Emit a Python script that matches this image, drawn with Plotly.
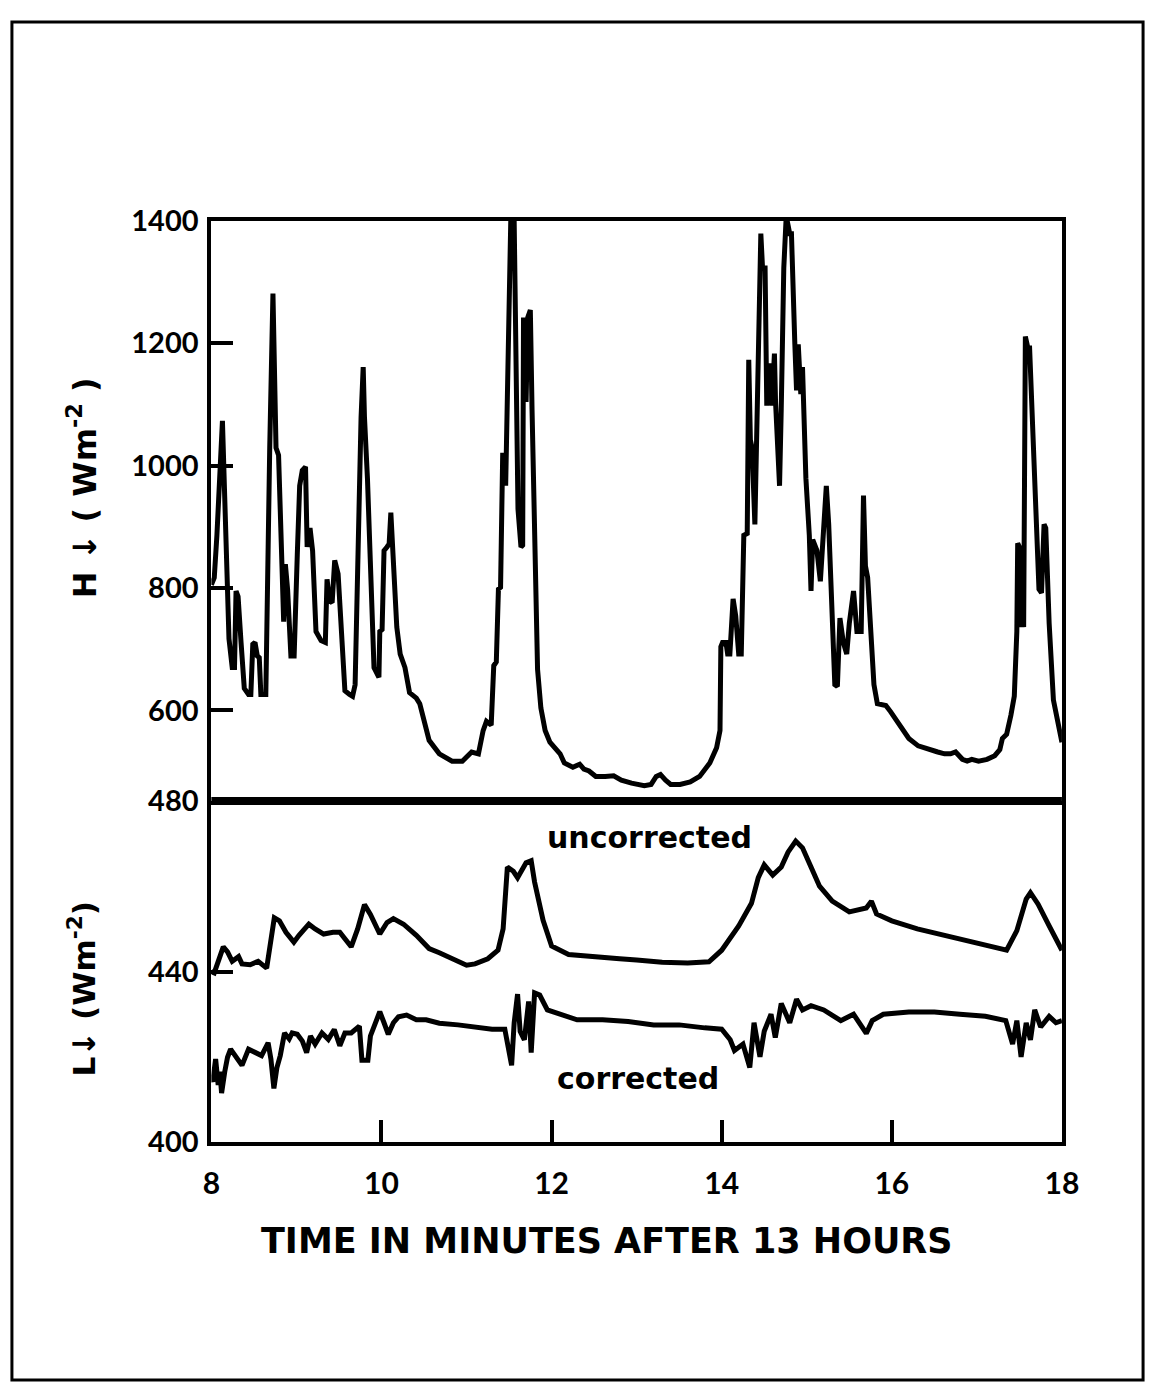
import plotly.graph_objects as go

# ---------------- data ----------------
t_H = [8.00, 8.034, 8.065, 8.092, 8.13, 8.157, 8.18, 8.207, 8.245, 8.272, 8.29, 8.314, 8.349, 8.387, 8.437, 8.464, 8.487, 8.513, 8.54, 8.563, 8.582, 8.64, 8.686, 8.724, 8.76, 8.79, 8.83, 8.85, 8.87, 8.896, 8.935, 8.973, 9.01, 9.038, 9.069, 9.107, 9.126, 9.14, 9.16, 9.19, 9.23, 9.29, 9.34, 9.36, 9.39, 9.42, 9.45, 9.49, 9.53, 9.57, 9.624, 9.66, 9.69, 9.72, 9.76, 9.785, 9.80, 9.835, 9.874, 9.912, 9.97, 9.98, 10.007, 10.03, 10.065, 10.09, 10.11, 10.134, 10.18, 10.22, 10.276, 10.33, 10.41, 10.45, 10.49, 10.56, 10.68, 10.83, 10.95, 11.02, 11.06, 11.14, 11.195, 11.234, 11.29, 11.32, 11.35, 11.375, 11.40, 11.425, 11.453, 11.46, 11.48, 11.52, 11.56, 11.578, 11.605, 11.64, 11.66, 11.67, 11.70, 11.72, 11.75, 11.77, 11.81, 11.835, 11.874, 11.924, 11.98, 12.06, 12.10, 12.15, 12.25, 12.33, 12.38, 12.44, 12.52, 12.63, 12.73, 12.82, 12.94, 13.09, 13.17, 13.23, 13.28, 13.34, 13.40, 13.51, 13.63, 13.74, 13.86, 13.94, 13.98, 13.99, 14.01, 14.05, 14.07, 14.096, 14.134, 14.165, 14.2, 14.23, 14.26, 14.30, 14.318, 14.337, 14.357, 14.39, 14.42, 14.46, 14.48, 14.51, 14.53, 14.57, 14.59, 14.62, 14.633, 14.66, 14.68, 14.70, 14.73, 14.756, 14.77, 14.80, 14.82, 14.86, 14.88, 14.90, 14.93, 14.95, 14.99, 15.03, 15.05, 15.07, 15.12, 15.16, 15.19, 15.23, 15.258, 15.30, 15.33, 15.36, 15.39, 15.43, 15.47, 15.50, 15.55, 15.59, 15.64, 15.667, 15.69, 15.716, 15.75, 15.79, 15.83, 15.93, 15.985, 16.04, 16.12, 16.20, 16.31, 16.43, 16.54, 16.62, 16.69, 16.75, 16.83, 16.886, 16.94, 17.02, 17.12, 17.21, 17.27, 17.30, 17.35, 17.40, 17.44, 17.47, 17.48, 17.50, 17.52, 17.54, 17.55, 17.57, 17.60, 17.62, 17.67, 17.73, 17.76, 17.79, 17.81, 17.85, 17.90, 17.94, 17.98, 18.00]
H_down = [805, 817, 886, 980, 1073, 948, 804, 717, 670, 670, 795, 786, 711, 636, 626, 626, 708, 711, 689, 686, 626, 626, 1029, 1281, 1029, 1017, 836, 745, 839, 798, 689, 689, 854, 967, 992, 998, 867, 880, 898, 861, 729, 714, 711, 814, 779, 776, 845, 823, 729, 632, 626, 623, 642, 854, 1079, 1161, 1079, 979, 836, 670, 654, 729, 732, 861, 867, 872, 923, 854, 736, 692, 670, 629, 620, 611, 586, 551, 529, 517, 517, 526, 532, 529, 567, 582, 576, 673, 679, 798, 801, 1017, 1017, 967, 1104, 1400, 1400, 1229, 929, 867, 870, 1242, 1104, 1242, 1254, 1092, 792, 667, 604, 567, 548, 536, 529, 514, 507, 512, 504, 501, 492, 492, 493, 486, 481, 477, 479, 492, 495, 486, 479, 479, 483, 492, 514, 539, 567, 704, 711, 711, 692, 692, 782, 754, 692, 692, 886, 889, 1173, 1042, 1029, 904, 1136, 1379, 1323, 1323, 1098, 1167, 1098, 1183, 1104, 1017, 967, 1092, 1323, 1400, 1400, 1379, 1379, 1198, 1123, 1198, 1117, 1161, 979, 886, 795, 879, 861, 811, 867, 967, 904, 761, 642, 639, 751, 711, 692, 742, 795, 729, 729, 951, 836, 817, 729, 642, 611, 608, 598, 586, 570, 554, 542, 536, 532, 529, 529, 532, 520, 517, 520, 517, 520, 526, 536, 554, 561, 592, 623, 729, 873, 867, 736, 779, 736, 1211, 1192, 1192, 1011, 798, 792, 904, 898, 742, 617, 589, 567, 548]

t_L_unc = [8.0, 8.034, 8.14, 8.19, 8.245, 8.32, 8.36, 8.456, 8.55, 8.65, 8.74, 8.80, 8.877, 8.97, 9.03, 9.146, 9.22, 9.32, 9.43, 9.51, 9.644, 9.72, 9.80, 9.87, 9.98, 10.065, 10.14, 10.26, 10.41, 10.56, 10.68, 10.85, 11.0, 11.1, 11.25, 11.37, 11.43, 11.48, 11.55, 11.6, 11.7, 11.76, 11.8, 11.9, 12.0, 12.2, 12.5, 12.8, 13.0, 13.3, 13.6, 13.85, 14.0, 14.2, 14.35, 14.43, 14.5, 14.6, 14.7, 14.78, 14.87, 14.95, 15.05, 15.15, 15.3, 15.5, 15.7, 15.76, 15.82, 16.0, 16.3, 16.6, 16.9, 17.2, 17.35, 17.47, 17.58, 17.63, 17.72, 17.85, 18.0]
L_unc = [440, 439.7, 445.8, 444.6, 442.4, 443.5, 441.8, 441.6, 442.4, 440.8, 452.6, 451.9, 449.2, 446.9, 448.5, 451.1, 450, 448.8, 449.2, 449.2, 445.8, 450, 455.7, 453.4, 448.8, 451.5, 452.4, 451.1, 448.5, 445.4, 444.4, 443, 441.5, 441.8, 443, 445, 450, 464.5, 463.5, 462, 465.5, 466, 461, 452, 446, 444, 443.4, 443, 442.7, 442.2, 442, 442.3, 445, 450.7, 456, 462, 465, 462.6, 464.5, 468, 470.6, 469, 464.5, 460, 456.5, 454, 454.9, 456.5, 453.5, 451.9, 450, 448.5, 447, 445.5, 445, 449.6, 457, 458.5, 455.8, 450.7, 445]

t_L_cor = [8.0, 8.016, 8.05, 8.08, 8.10, 8.12, 8.157, 8.19, 8.226, 8.28, 8.36, 8.437, 8.53, 8.59, 8.667, 8.70, 8.735, 8.77, 8.81, 8.86, 8.915, 8.95, 9.01, 9.07, 9.12, 9.165, 9.22, 9.30, 9.375, 9.445, 9.51, 9.57, 9.644, 9.74, 9.77, 9.84, 9.87, 9.93, 9.98, 10.03, 10.08, 10.14, 10.2, 10.295, 10.41, 10.525, 10.68, 10.9, 11.1, 11.3, 11.45, 11.5, 11.53, 11.56, 11.6, 11.63, 11.68, 11.73, 11.76, 11.8, 11.86, 11.95, 12.1, 12.3, 12.6, 12.9, 13.2, 13.5, 13.8, 14.0, 14.1, 14.15, 14.25, 14.33, 14.38, 14.45, 14.5, 14.58, 14.63, 14.7, 14.8, 14.88, 14.95, 15.05, 15.2, 15.4, 15.55, 15.7, 15.77, 15.9, 16.2, 16.5, 16.8, 17.1, 17.34, 17.42, 17.47, 17.52, 17.58, 17.63, 17.68, 17.75, 17.85, 17.93, 18.0]
L_cor = [415, 414.2, 419.5, 413.4, 416.5, 411.5, 416.5, 419.9, 421.8, 420.3, 418, 421.8, 420.7, 420.3, 423.3, 419.5, 412.6, 417.4, 420.3, 425.6, 424.2, 425.6, 425.3, 423.7, 421, 424.9, 423, 425.6, 424.1, 426.4, 422.6, 425.6, 425.6, 427.2, 419.2, 419.2, 424.9, 428.4, 430.6, 428, 425.3, 428, 429.4, 429.8, 428.7, 428.7, 427.9, 427.5, 427, 426.5, 426.5, 420, 418, 428, 434.7, 426, 424, 433, 421, 435, 434.5, 431, 430, 428.7, 428.7, 428.3, 427.5, 427.5, 426.8, 426.5, 424, 421.5, 423, 417.5, 428, 420, 426, 430, 424.5, 432.5, 428, 433.5, 431, 432, 431, 428.5, 430, 425.5, 428.5, 430, 430.5, 430.5, 430, 429.5, 428.5, 423, 428.5, 420, 428, 424, 431, 427, 429.5, 428, 428.5]

x_tickvals = [8, 10, 12, 14, 16, 18]
x_ticktext = ["8", "10", "12", "14", "16", "18"]
h_tickvals = [600, 800, 1000, 1200, 1400]
h_ticktext = ["600", "800", "1000", "1200", "1400"]
l_tickvals = [400, 440, 480]
l_ticktext = ["400", "440", "480"]

# ---------------- layout constants ----------------
W, Hpx = 1163, 1399
x0, x1 = 207 / W, 1077 / W
top_hi, top_lo = 1 - 207 / Hpx, 1 - 802 / Hpx
bot_hi, bot_lo = top_lo, 1 - 1152 / Hpx

NUMFONT = "Lato"
TXTFONT = "DejaVu Sans"
ytickfont = dict(family=NUMFONT, size=29, color="black", weight="bold")
xtickfont = dict(family=NUMFONT, size=30, color="black", weight="bold")
LW = 5

fig = go.Figure()
fig.add_trace(go.Scatter(x=t_H, y=H_down, mode="lines", xaxis="x2", yaxis="y",
                         line=dict(color="black", width=LW), showlegend=False))
fig.add_trace(go.Scatter(x=t_L_unc, y=L_unc, mode="lines", xaxis="x", yaxis="y2",
                         line=dict(color="black", width=LW), showlegend=False))
fig.add_trace(go.Scatter(x=t_L_cor, y=L_cor, mode="lines", xaxis="x", yaxis="y2",
                         line=dict(color="black", width=LW), showlegend=False))

fig.update_layout(
    width=W, height=Hpx, margin=dict(l=0, r=0, t=0, b=0),
    paper_bgcolor="white", plot_bgcolor="white",
    xaxis=dict(domain=[x0, x1], anchor="y2", range=[8, 18], tickvals=x_tickvals, ticktext=x_ticktext,
               ticks="inside", ticklen=22, tickwidth=4, tickcolor="black",
               showline=True, linewidth=4, linecolor="black", mirror=False,
               showgrid=False, zeroline=False, tickfont=xtickfont, ticklabelstandoff=12),
    xaxis2=dict(domain=[x0, x1], anchor="y", range=[8, 18], showticklabels=False, ticks="",
                showline=True, linewidth=4, linecolor="black", mirror=True,
                showgrid=False, zeroline=False),
    yaxis=dict(domain=[top_lo, top_hi], anchor="x2", range=[452, 1400],
               tickvals=h_tickvals, ticktext=h_ticktext, ticks="inside", ticklen=22, tickwidth=4,
               tickcolor="black", showline=True, linewidth=4, linecolor="black", mirror=True,
               showgrid=False, zeroline=False, tickfont=ytickfont, ticklabelstandoff=3),
    yaxis2=dict(domain=[bot_lo, bot_hi], anchor="x", range=[400, 480],
                tickvals=l_tickvals, ticktext=l_ticktext, ticks="inside", ticklen=22, tickwidth=4,
                tickcolor="black", showline=True, linewidth=4, linecolor="black", mirror=True,
                showgrid=False, zeroline=False, tickfont=ytickfont, ticklabelstandoff=3),
)

# thick separating line and outer frame
fig.add_shape(type="line", xref="paper", yref="paper", x0=x0, x1=x1, y0=top_lo, y1=top_lo,
              line=dict(color="black", width=8))
fig.add_shape(type="rect", xref="paper", yref="paper", x0=3 / W, x1=1160 / W, y0=1 - 1396 / Hpx, y1=1 - 3 / Hpx,
              line=dict(color="black", width=3))

# axis titles & labels
def note(text, x, y, size, angle=0, weight="bold", family=TXTFONT):
    fig.add_annotation(text=text, xref="paper", yref="paper", x=x / W, y=1 - y / Hpx,
                       xanchor="center", yanchor="middle", showarrow=False, textangle=angle,
                       font=dict(family=family, size=size, color="black", weight=weight))

note("H \u2193 ( Wm<sup>-2</sup> )", 75, 481, 32, angle=-90)
note("L\u2193 (Wm<sup>-2</sup>)", 75, 995, 31, angle=-90)
note("TIME IN MINUTES AFTER 13 HOURS", 612, 1253, 35)
note("uncorrected", 655, 840, 30)
note("corrected", 643, 1087, 30)

fig.write_html("out.html")
